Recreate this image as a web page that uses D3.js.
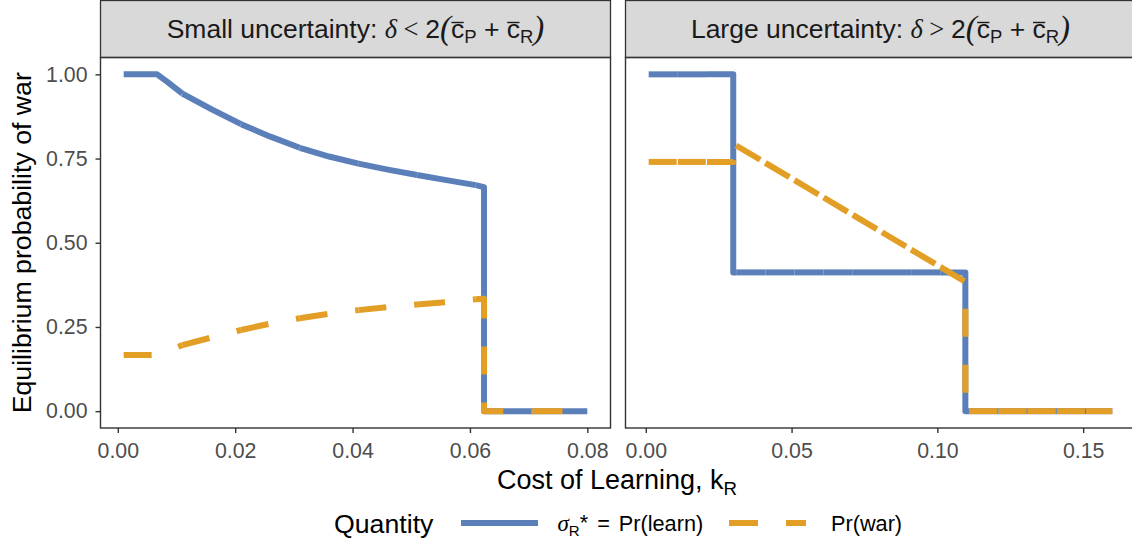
<!DOCTYPE html>
<html>
<head>
<meta charset="utf-8">
<script src="https://cdn.jsdelivr.net/npm/d3@7"></script>
<style>
  body { margin: 0; background: #fff; }
  text { font-family: "Liberation Sans", Arial, sans-serif; }
</style>
</head>
<body>
<div id="chart"></div>
<script>
// values
var smallK     = [0.001, 0.0067, 0.0085, 0.011, 0.016, 0.021, 0.026, 0.031, 0.036, 0.041, 0.046, 0.051, 0.056, 0.061, 0.0624, 0.0624, 0.080];
var smallLearn = [1, 1, 0.977, 0.943, 0.896, 0.852, 0.815, 0.782, 0.756, 0.735, 0.717, 0.701, 0.686, 0.671, 0.665, 0, 0];
var smallWar   = [0.167, 0.167, 0.179, 0.196, 0.219, 0.241, 0.260, 0.276, 0.289, 0.300, 0.309, 0.317, 0.324, 0.332, 0.334, 0, 0];

var largeK     = [0.001, 0.030, 0.030, 0.1096, 0.1096, 0.160];
var largeLearn = [1, 1, 0.412, 0.412, 0, 0];
var largeWar   = [0.74, 0.74, 0.794, 0.384, 0, 0];

var smallTicks = [0, 0.02, 0.04, 0.06, 0.08];
var largeTicks = [0, 0.05, 0.10, 0.15];
var yTicks     = [0, 0.25, 0.50, 0.75, 1.00];

var facetWords = ["Small uncertainty:", "Large uncertainty:"];
var facetRel   = ["<", ">"];
var colors     = ["#5B80B9", "#E39E26"];

// the original draws each 0.01-wide piece of k as its own line, so the dashes restart there
var pieceStart = 0.001, pieceStep = 0.01;

// layout
var W = 1132, H = 543;
var panelTop = 57.5, panelBottom = 428, panelW = 510;
var panelLefts = [100.5, 625.5];
var stripTop = 0.5;

var svg = d3.select("#chart")
  .append("svg")
    .attr("width", W)
    .attr("height", H);

var y = d3.scaleLinear()
  .domain([-0.05, 1.05])
  .range([panelBottom, panelTop]);

var panels = [
  {k: smallK, learn: smallLearn, war: smallWar, ticks: smallTicks},
  {k: largeK, learn: largeLearn, war: largeWar, ticks: largeTicks}
];

// cut a polyline into pieces at k = pieceStart + n * pieceStep
function splitPieces(ks, vs) {
  var segs = [];
  for (var i = 0; i < ks.length - 1; i++) {
    var a = [ks[i], vs[i]], b = [ks[i + 1], vs[i + 1]];
    var cur = a;
    if (b[0] > a[0]) {
      var n = Math.floor((a[0] - pieceStart) / pieceStep + 1e-9) + 1;
      for (; pieceStart + n * pieceStep < b[0] - 1e-9; n++) {
        var bk = pieceStart + n * pieceStep;
        var t = (bk - a[0]) / (b[0] - a[0]);
        var p = [bk, a[1] + t * (b[1] - a[1])];
        segs.push([cur, p]);
        cur = p;
      }
    }
    segs.push([cur, b]);
  }
  var pieces = [], lastId = null;
  segs.forEach(function(s) {
    var mid = (s[0][0] + s[1][0]) / 2;
    var id = Math.floor((mid - pieceStart) / pieceStep + 1e-9);
    if (id !== lastId) { pieces.push([s[0]]); lastId = id; }
    pieces[pieces.length - 1].push(s[1]);
  });
  return pieces;
}

// helper for the plotmath-ish strip label
function stripLabel(g, cx, base, word, rel) {
  var t = g.append("text")
    .attr("x", cx)
    .attr("y", base)
    .attr("text-anchor", "middle")
    .attr("fill", "#1A1A1A")
    .style("font-size", "26.5px");
  t.append("tspan").text(word + " ");
  t.append("tspan").style("font-family", "Liberation Serif").style("font-style", "italic").text("δ");
  t.append("tspan").style("font-family", "Liberation Serif").text(" " + rel + " ");
  t.append("tspan").text("2");
  t.append("tspan").style("font-family", "Liberation Serif").style("font-style", "italic").style("font-size", "33px").attr("dy", 1).text("(");
  var c1 = t.append("tspan").attr("dy", -1).text("c");
  t.append("tspan").style("font-size", "18.5px").attr("dy", 5).text("P");
  t.append("tspan").attr("dy", -5).text(" + ");
  var c2 = t.append("tspan").text("c");
  t.append("tspan").style("font-size", "18.5px").attr("dy", 5).text("R");
  t.append("tspan").style("font-family", "Liberation Serif").style("font-style", "italic").style("font-size", "33px").attr("dy", -4).text(")");

  // bars over the c's
  [c1, c2].forEach(function(c) {
    var node = c.node();
    var a = node.getStartPositionOfChar(0), b = node.getEndPositionOfChar(0);
    g.append("line")
      .attr("x1", a.x + 0.5).attr("x2", b.x - 0.5)
      .attr("y1", base - 15).attr("y2", base - 15)
      .attr("stroke", "#1A1A1A")
      .attr("stroke-width", 1.4);
  });
}

panels.forEach(function(p, pi) {
  var left = panelLefts[pi];
  var ext = d3.extent(p.k), pad = (ext[1] - ext[0]) * 0.05;
  var x = d3.scaleLinear()
    .domain([ext[0] - pad, ext[1] + pad])
    .range([left, left + panelW]);

  var g = svg.append("g");

  // strip
  g.append("rect")
    .attr("x", left).attr("y", stripTop)
    .attr("width", panelW).attr("height", panelTop - stripTop)
    .attr("fill", "#D9D9D9")
    .attr("stroke", "#333333")
    .attr("stroke-width", 1.3);
  stripLabel(g, left + panelW / 2, 37.5, facetWords[pi], facetRel[pi]);

  // lines
  var line = d3.line()
    .x(function(d) { return x(d[0]); })
    .y(function(d) { return y(d[1]); });
  [p.learn, p.war].forEach(function(vals, si) {
    g.append("g")
      .selectAll("path")
      .data(splitPieces(p.k, vals))
      .enter().append("path")
        .attr("d", line)
        .attr("fill", "none")
        .attr("stroke", colors[si])
        .attr("stroke-width", 6)
        .attr("stroke-linejoin", "round")
        .attr("stroke-linecap", "butt")
        .attr("stroke-dasharray", si == 1 ? "28,28" : null);
  });

  // panel border
  g.append("rect")
    .attr("x", left).attr("y", panelTop)
    .attr("width", panelW).attr("height", panelBottom - panelTop)
    .attr("fill", "none")
    .attr("stroke", "#333333")
    .attr("stroke-width", 1.4);

  // x axis
  var xa = g.append("g")
    .attr("transform", "translate(0," + panelBottom + ")")
    .call(d3.axisBottom(x).tickValues(p.ticks).tickFormat(d3.format(".2f")).tickSize(5).tickPadding(10));
  xa.select(".domain").remove();
  xa.selectAll("line").attr("stroke", "#333333").attr("stroke-width", 1.4);
  xa.selectAll("text").attr("fill", "#4D4D4D").style("font-size", "21.3px")
    .style("font-family", "Liberation Sans");

  // y axis on the first panel only
  if (pi == 0) {
    var ya = g.append("g")
      .attr("transform", "translate(" + left + ",0)")
      .call(d3.axisLeft(y).tickValues(yTicks).tickFormat(d3.format(".2f")).tickSize(5).tickPadding(8));
    ya.select(".domain").remove();
    ya.selectAll("line").attr("stroke", "#333333").attr("stroke-width", 1.4);
    ya.selectAll("text").attr("fill", "#4D4D4D").style("font-size", "21.3px")
      .style("font-family", "Liberation Sans");
  }
});

// axis titles
var xt = svg.append("text")
  .attr("x", 617).attr("y", 488.5)
  .attr("text-anchor", "middle")
  .style("font-size", "27px")
  .attr("fill", "#000");
xt.append("tspan").text("Cost of Learning, k");
xt.append("tspan").style("font-size", "18.7px").attr("dy", 6).text("R");

svg.append("text")
  .attr("transform", "translate(30.5," + ((panelTop + panelBottom) / 2) + ") rotate(-90)")
  .attr("text-anchor", "middle")
  .style("font-size", "26.7px")
  .attr("fill", "#000")
  .text("Equilibrium probability of war");

// legend
var legY = 523;
var legend = svg.append("g").attr("class", "legend");
legend.append("text")
  .attr("x", 334).attr("y", legY + 9.5)
  .style("font-size", "26.7px")
  .text("Quantity");

var keyX = [461, 729], labX = [557.5, 831];
colors.forEach(function(c, i) {
  legend.append("line")
    .attr("x1", keyX[i]).attr("x2", keyX[i] + 77)
    .attr("y1", legY).attr("y2", legY)
    .attr("stroke", c)
    .attr("stroke-width", 6)
    .attr("stroke-dasharray", i == 1 ? "29,28" : null);
});

var l1 = legend.append("text")
  .attr("x", labX[0]).attr("y", legY + 7.5)
  .style("font-size", "21.7px");
l1.append("tspan").style("font-family", "Liberation Serif").style("font-style", "italic").style("font-size", "23px").text("σ");
l1.append("tspan").style("font-size", "15px").attr("dy", 5).text("R");
l1.append("tspan").attr("dy", -6).text("*");
l1.append("tspan").attr("dy", 1).attr("dx", 9).text("=");
l1.append("tspan").attr("dx", 9).text("Pr(learn)");

legend.append("text")
  .attr("x", labX[1]).attr("y", legY + 7.5)
  .style("font-size", "21.7px")
  .text("Pr(war)");
</script>
</body>
</html>
